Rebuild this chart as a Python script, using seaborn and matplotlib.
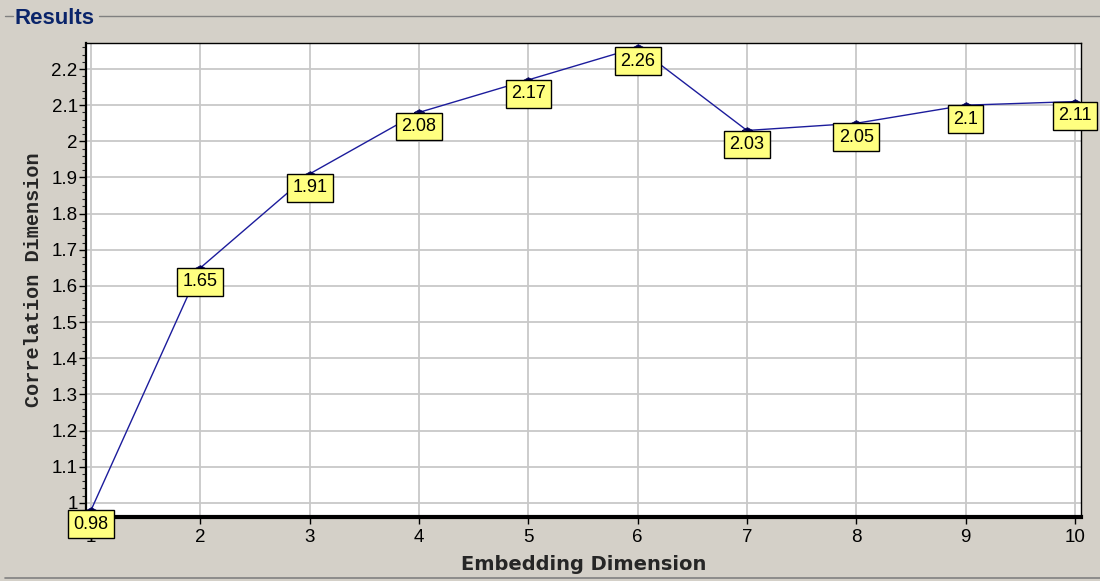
import matplotlib
matplotlib.use("Agg")
import matplotlib.pyplot as plt
from matplotlib.lines import Line2D
from matplotlib.ticker import MultipleLocator
import pandas as pd
import seaborn as sns

# values
embedding_dim = [1, 2, 3, 4, 5, 6, 7, 8, 9, 10]
correlation_dim = [0.98, 1.65, 1.91, 2.08, 2.17, 2.26, 2.03, 2.05, 2.1, 2.11]
point_labels = ["0.98", "1.65", "1.91", "2.08", "2.17", "2.26", "2.03", "2.05", "2.1", "2.11"]
y_ticks = [1.0, 1.1, 1.2, 1.3, 1.4, 1.5, 1.6, 1.7, 1.8, 1.9, 2.0, 2.1, 2.2]
y_tick_labels = ["1", "1.1", "1.2", "1.3", "1.4", "1.5", "1.6", "1.7", "1.8", "1.9", "2", "2.1", "2.2"]

df = pd.DataFrame({"emb": embedding_dim, "corr": correlation_dim})

sns.set_style("white")
plt.rcParams["font.family"] = ["Liberation Sans", "DejaVu Sans"]

bg = "#D4D0C8"
fig = plt.figure(figsize=(11, 5.81), dpi=100, facecolor=bg)
ax = fig.add_axes([0.0782, 0.1102, 0.9045, 0.8158])
ax.set_facecolor("white")

# flat triangle sitting on the data point
tri = [(-1, 0), (1, 0), (0, 0.55), (-1, 0)]
sns.lineplot(data=df, x="emb", y="corr", ax=ax, color="#1C1C9C", linewidth=1.0,
             marker=tri, markersize=7.5, markerfacecolor="#00005A",
             markeredgecolor="#00005A", markeredgewidth=0.5, zorder=3)

for x, y, lab in zip(embedding_dim, correlation_dim, point_labels):
    ax.annotate(lab, (x, y), xytext=(0, -4), textcoords="offset points",
                ha="center", va="top", fontsize=13, color="black", zorder=5,
                annotation_clip=False,
                bbox=dict(boxstyle="square,pad=0.3", fc="#FFFF80", ec="black", lw=1))

ax.set_xlim(0.954, 10.055)
ax.set_ylim(0.961, 2.272)
ax.set_xticks(embedding_dim)
ax.set_yticks(y_ticks)
ax.set_yticklabels(y_tick_labels)
ax.yaxis.set_minor_locator(MultipleLocator(0.02))
ax.grid(True, which="major", color="#C8C8C8", linewidth=1.3)
ax.tick_params(axis="both", which="major", direction="out", length=5, width=1,
               labelsize=13.5, colors="black", pad=1, left=True, bottom=True)
ax.tick_params(axis="x", which="major", pad=4)
ax.tick_params(axis="y", which="minor", direction="out", length=3, width=0.8, left=True)

for side in ["top", "right"]:
    ax.spines[side].set_linewidth(1.0)
    ax.spines[side].set_color("black")
ax.spines["left"].set_linewidth(1.6)
ax.spines["left"].set_color("black")
ax.spines["bottom"].set_linewidth(3.0)
ax.spines["bottom"].set_color("black")

ax.set_xlabel("Embedding Dimension", fontsize=14, fontweight="bold",
              family="DejaVu Sans", labelpad=6)
ax.set_ylabel("Correlation Dimension", fontsize=14.5, fontweight="bold",
              family="Liberation Mono", labelpad=6)

# group box frame around the chart
fig.add_artist(Line2D([5 / 1100, 13 / 1100], [1 - 16 / 581] * 2, color="#808080", lw=1))
fig.add_artist(Line2D([99 / 1100, 1.0], [1 - 16 / 581] * 2, color="#808080", lw=1))
fig.add_artist(Line2D([5 / 1100, 1.0], [1 - 578 / 581] * 2, color="#808080", lw=1.2))
fig.text(14 / 1100, 1 - 18 / 581, "Results", fontsize=16, fontweight="bold",
         color="#0A246A", va="center", ha="left")

fig.savefig("out.png", dpi=100, facecolor=bg)
